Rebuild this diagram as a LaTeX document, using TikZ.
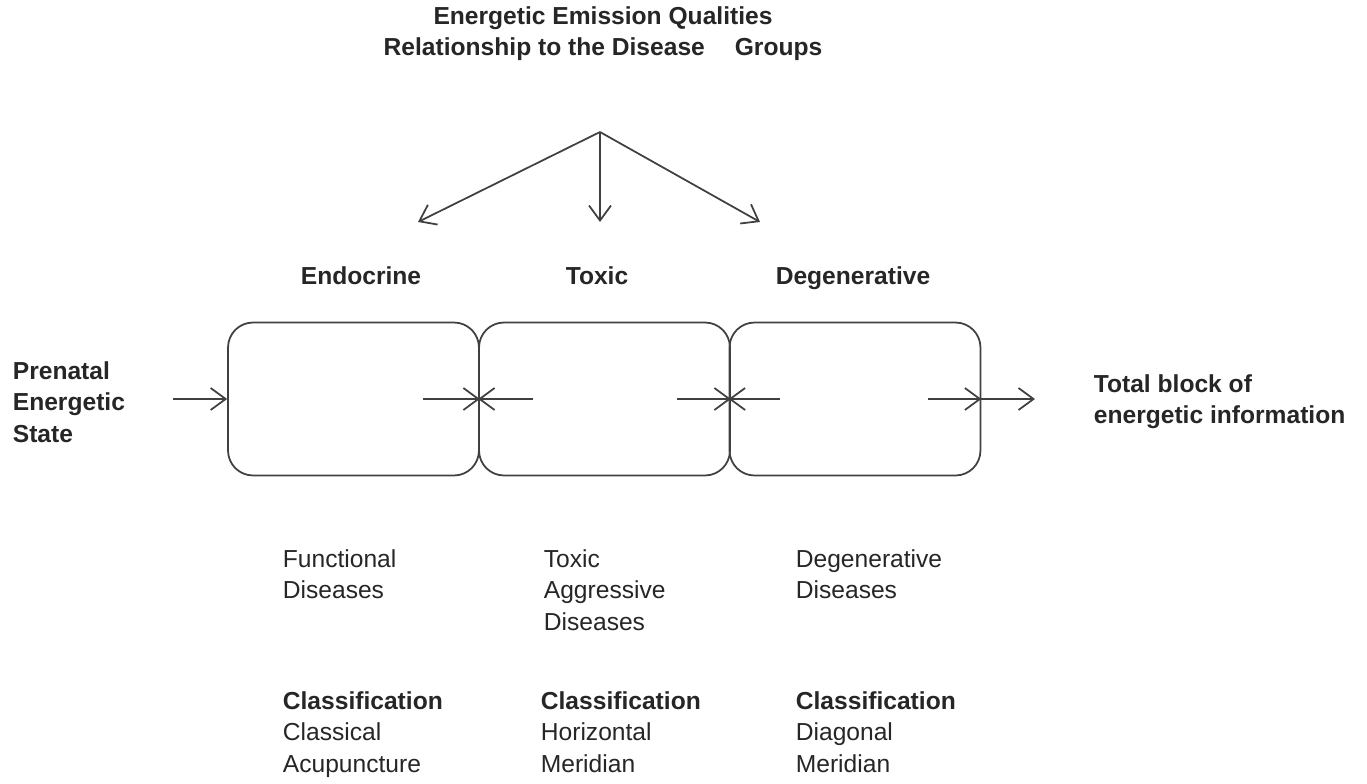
\documentclass[tikz,border=0pt]{standalone}
\usepackage{fontspec}
\setmainfont{Liberation Sans}
\usetikzlibrary{arrows.meta}

\begin{document}
\begin{tikzpicture}[x=0.02cm,y=-0.02cm,line width=1pt,
  txt/.style={font=\fontsize{14}{17.8}\selectfont,text=black!85,inner sep=0pt,align=left},
  head/.style={txt,font=\fontsize{14}{17.8}\selectfont\bfseries},
  group/.style={draw=black!75,rounded corners=0.5cm,minimum width=5.02cm,minimum height=3.06cm,inner sep=0pt},
  flow/.style={draw=black!75,-{Straight Barb[length=3mm,width=4.4mm]}}]
\useasboundingbox (0,0) rectangle (1367,784);

% title and the three groups
\node[head,align=center,anchor=north] (title) at (603,6) {Energetic Emission Qualities\\Relationship to the Disease\hspace{0.6cm}Groups};
\coordinate (apex) at (600,132);
\coordinate (toendo) at (418,222);
\coordinate (totox) at (600,222);
\coordinate (todeg) at (760,222);
\draw[flow] (apex) -- (toendo);
\draw[flow] (apex) -- (totox);
\draw[flow] (apex) -- (todeg);

\node[head,anchor=base] (endo) at (361,284) {Endocrine};
\node[head,anchor=base] (tox) at (597,284) {Toxic};
\node[head,anchor=base] (deg) at (853,284) {Degenerative};

% the chain of boxes
\node[group] (endobox) at (353.5,399) {};
\node[group] (toxbox) at (604.5,399) {};
\node[group] (degbox) at (855,399) {};

\node[head,anchor=north west] (prenatal) at (12,361) {Prenatal\\Energetic\\State};
\node[head,anchor=north west] (total) at (1093,374) {Total block of\\energetic information};

\coordinate (pin) at (173,399);
\coordinate (j1l) at (423,399);
\coordinate (j1r) at (533,399);
\coordinate (j2l) at (677,399);
\coordinate (j2r) at (780,399);
\coordinate (j3l) at (928,399);
\coordinate (pout) at (1035,399);
\draw[flow] (pin) -- (endobox.west);
\draw[flow] (j1l) -- (endobox.east);
\draw[flow] (j1r) -- (toxbox.west);
\draw[flow] (j2l) -- (toxbox.east);
\draw[flow] (j2r) -- (degbox.west);
\draw[flow] (j3l) -- (degbox.east);
\draw[flow] (degbox.east) -- (pout);

% diseases
\node[txt,anchor=north west] (funcdis) at (282,549) {Functional\\Diseases};
\node[txt,anchor=north west] (toxdis) at (543,549) {Toxic\\Aggressive\\Diseases};
\node[txt,anchor=north west] (degdis) at (795,549) {Degenerative\\Diseases};

% classification
\node[txt,anchor=north west] (funccls) at (282,691) {\textbf{Classification}\\Classical\\Acupuncture};
\node[txt,anchor=north west] (toxcls) at (540,691) {\textbf{Classification}\\Horizontal\\Meridian};
\node[txt,anchor=north west] (degcls) at (795,691) {\textbf{Classification}\\Diagonal\\Meridian};

\end{tikzpicture}
\end{document}
